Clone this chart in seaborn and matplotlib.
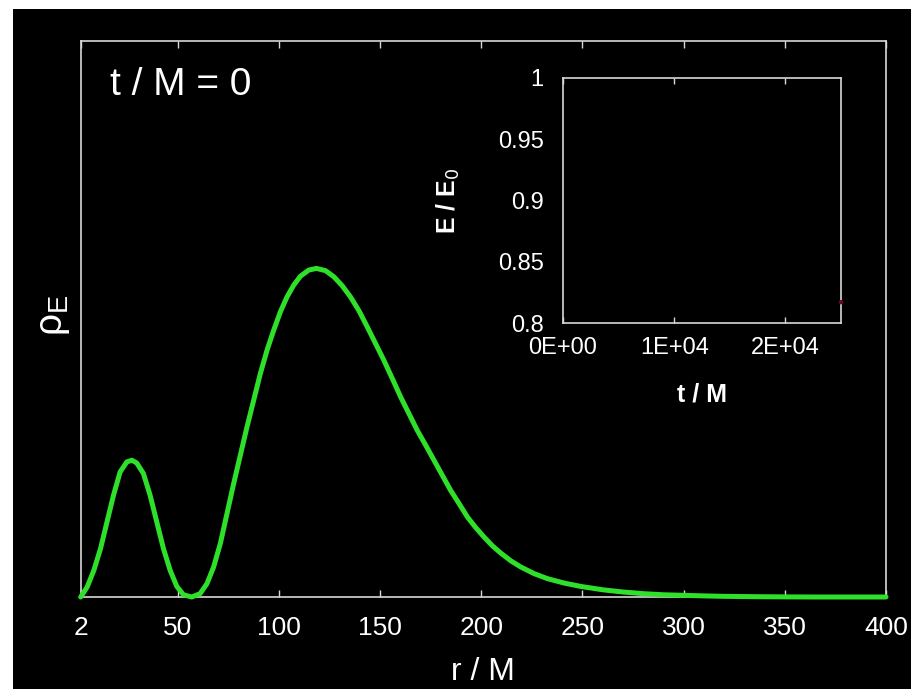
import numpy as np
import pandas as pd
import matplotlib
matplotlib.use('Agg')
import matplotlib.pyplot as plt
import seaborn as sns
from matplotlib import font_manager as fm
from matplotlib.patches import Rectangle

# ---- data ----
r_vals = [2, 5.2, 8.5, 11.8, 15.0, 18.2, 21.5, 24.8, 27.3, 29.7, 33.0, 36.3, 39.6,
          42.9, 46.2, 49.5, 52.8, 56.9, 61.0, 64.4, 67.7, 71.0, 74.3, 77.6, 80.9,
          84.2, 87.5, 90.8, 94.1, 97.4, 100.7, 104.0, 107.3, 110.6, 114.7, 118.5,
          123.0, 127.1, 131.2, 135.3, 139.5, 143.6, 147.7, 151.8, 156.0, 160.1,
          164.2, 168.3, 172.5, 176.6, 180.7, 184.8, 189.0, 193.1, 197.2, 201.3,
          205.5, 209.6, 214.6, 219.5, 226.1, 232.7, 241.0, 249.2, 260, 270, 280,
          290, 300, 310, 320, 335, 350, 365, 400]
rho_vals = [0.0, 0.018, 0.048, 0.087, 0.135, 0.183, 0.225, 0.243, 0.246, 0.241, 0.222,
            0.183, 0.135, 0.087, 0.048, 0.019, 0.004, 0.0, 0.006, 0.024, 0.054, 0.096,
            0.150, 0.204, 0.255, 0.306, 0.354, 0.402, 0.444, 0.480, 0.513, 0.540,
            0.561, 0.577, 0.588, 0.591, 0.587, 0.576, 0.560, 0.540, 0.515, 0.486,
            0.456, 0.426, 0.393, 0.360, 0.330, 0.300, 0.273, 0.246, 0.219, 0.192,
            0.168, 0.144, 0.125, 0.108, 0.092, 0.079, 0.065, 0.054, 0.042, 0.033,
            0.025, 0.019, 0.013, 0.009, 0.006, 0.004, 0.003, 0.002, 0.0012, 0.0006,
            0.0002, 0.0, 0.0]
x_ticks = [2, 50, 100, 150, 200, 250, 300, 350, 400]
x_tick_labels = ['2', '50', '100', '150', '200', '250', '300', '350', '400']

inset_t = [25000]
inset_E = [0.817]
inset_xticks = [0, 10000, 20000]
inset_xticklabels = ['0E+00', '1E+04', '2E+04']
inset_yticks = [0.8, 0.85, 0.9, 0.95, 1.0]
inset_yticklabels = ['0.8', '0.85', '0.9', '0.95', '1']

# ---- style ----
sns.set_theme(style='ticks')
installed = {f.name for f in fm.fontManager.ttflist}
narrow = 'Liberation Sans Narrow' if 'Liberation Sans Narrow' in installed else 'Liberation Sans'
plt.rcParams['font.family'] = [narrow, 'DejaVu Sans']
plt.rcParams['mathtext.fontset'] = 'dejavusans'

W, H = 911, 689
fig = plt.figure(figsize=(W / 100, H / 100), dpi=100, facecolor='black')
fig.patches.append(Rectangle((0, 0), 13 / W, 1, transform=fig.transFigure,
                             facecolor='white', edgecolor='none', zorder=-10))
fig.patches.append(Rectangle((0, 1 - 9 / H), 1, 9 / H, transform=fig.transFigure,
                             facecolor='white', edgecolor='none', zorder=-10))

spine_col = '#d8d8d8'

# ---- main axes ----
ax = fig.add_axes([80.7 / W, (H - 597) / H, 805.3 / W, 556 / H])
ax.set_facecolor('black')
df = pd.DataFrame({'r': r_vals, 'rho': rho_vals})
sns.lineplot(data=df, x='r', y='rho', ax=ax, color='#2fe02a', lw=3.6,
             estimator=None, sort=False, zorder=5, clip_on=False)
ax.set_xlim(2, 400)
ax.set_ylim(0, 1)
for s in ax.spines.values():
    s.set_color(spine_col)
    s.set_linewidth(1.2)
ax.set_xticks(x_ticks)
ax.set_xticklabels(x_tick_labels)
ax.tick_params(axis='x', direction='in', top=True, length=5, width=1,
               color=spine_col, labelcolor='white', labelsize=19, pad=14)
ax.set_yticks([])
ax.set_xlabel('r / M', color='white', fontsize=23, labelpad=12)
ax.set_ylabel(r'$\mathregular{\rho_E}$', color='white', fontsize=28)
ax.yaxis.set_label_coords(-0.011, 0.507)

fig.text(110 / W, 1 - 85 / H, 't / M = 0', color='white', fontsize=28,
         va='center', ha='left')

# ---- inset ----
axin = fig.add_axes([563 / W, (H - 323) / H, 278 / W, 245 / H])
axin.set_facecolor('black')
dfi = pd.DataFrame({'t': inset_t, 'E': inset_E})
sns.scatterplot(data=dfi, x='t', y='E', ax=axin, color='#6a0a22', s=10,
                edgecolor='none', clip_on=False, zorder=5)
axin.set_xlim(0, 25000)
axin.set_ylim(0.8, 1.0)
for s in axin.spines.values():
    s.set_color(spine_col)
    s.set_linewidth(1.2)
axin.set_xticks(inset_xticks)
axin.set_xticklabels(inset_xticklabels, family=['Liberation Sans', 'DejaVu Sans'])
axin.set_yticks(inset_yticks)
axin.set_yticklabels(inset_yticklabels, family=['Liberation Sans', 'DejaVu Sans'])
axin.tick_params(axis='x', direction='in', top=True, length=4, width=1,
                 color=spine_col, labelcolor='white', labelsize=17, pad=10)
axin.tick_params(axis='y', direction='in', length=0, labelcolor='white',
                 labelsize=17, pad=14)
axin.set_xlabel('t / M', color='white', fontsize=18, fontweight='bold',
                family=['Liberation Sans', 'DejaVu Sans'], labelpad=17)
axin.set_ylabel(r'E / E$_0$', color='white', fontsize=18, fontweight='bold',
                family=['Liberation Sans', 'DejaVu Sans'])
axin.yaxis.set_label_coords(-0.363, 0.5)

fig.savefig('out.png', dpi=100, facecolor='black')
